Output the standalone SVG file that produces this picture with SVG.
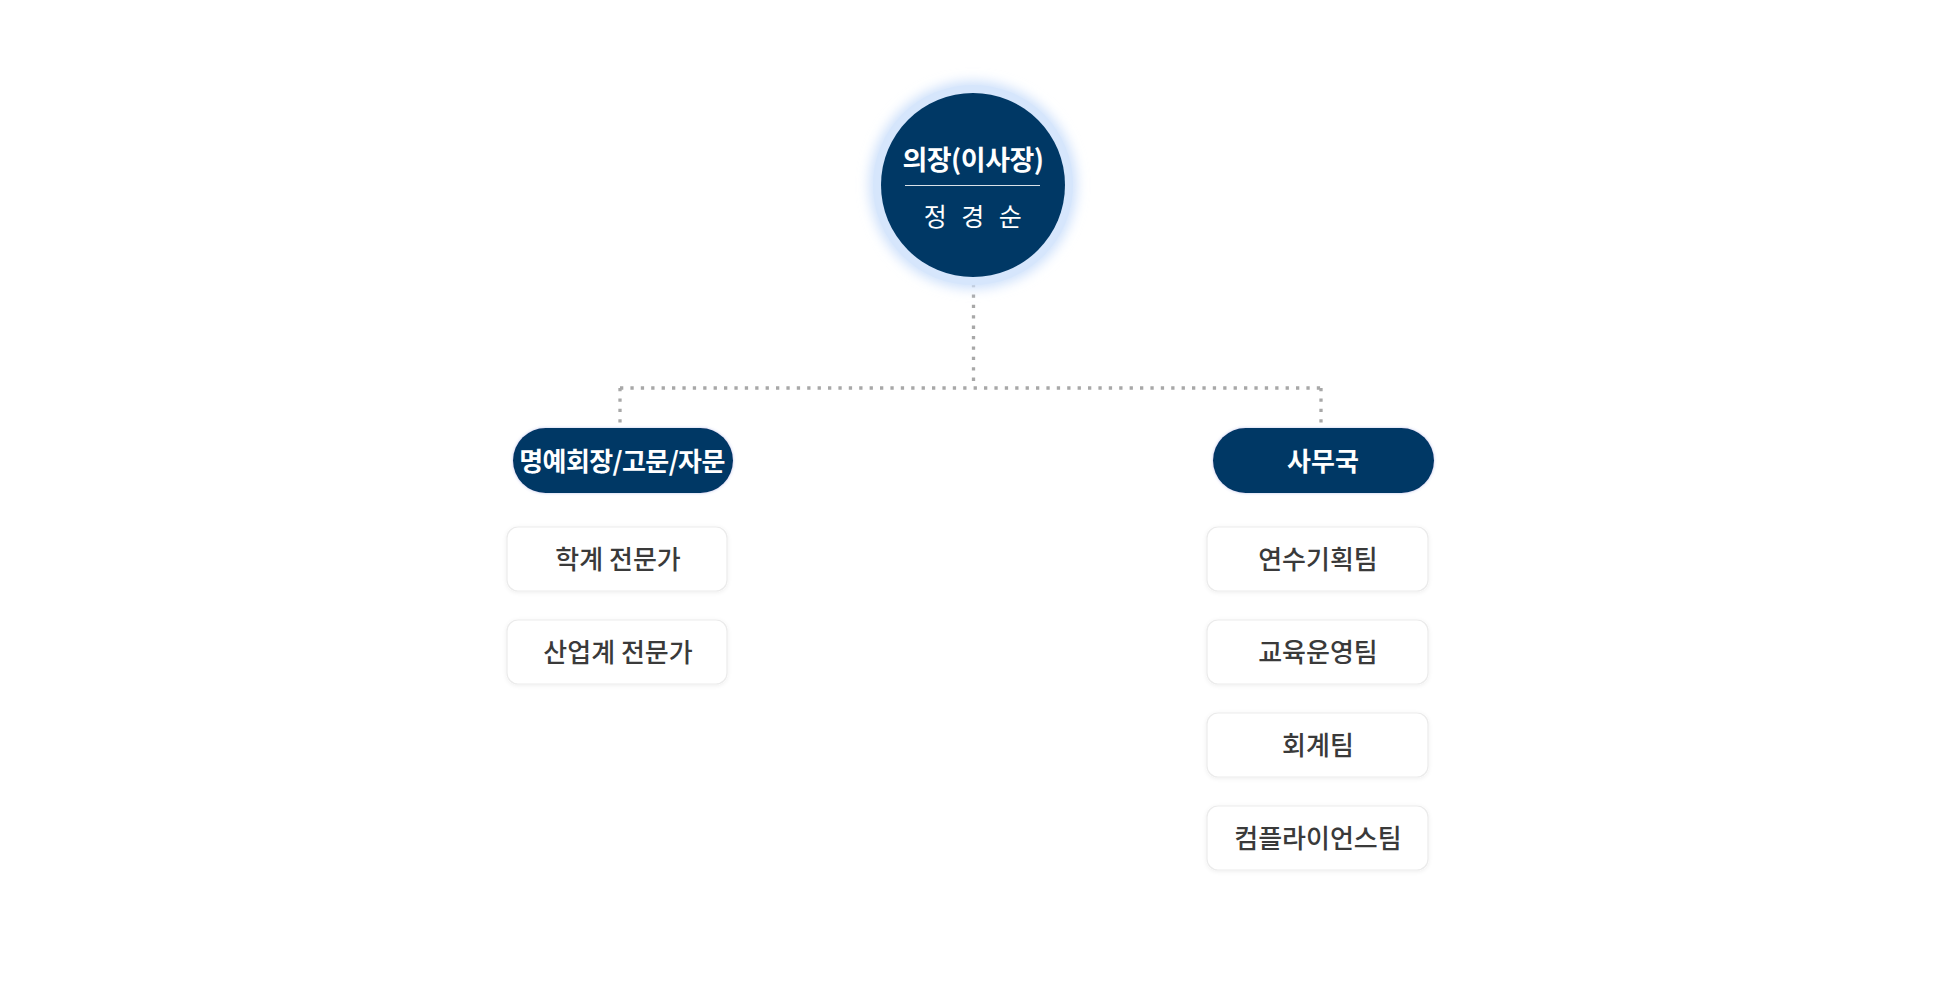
<svg xmlns="http://www.w3.org/2000/svg" width="1960" height="1000" viewBox="0 0 1960 1000">
  <defs>
    <filter id="glow" x="-50%" y="-50%" width="200%" height="200%">
      <feGaussianBlur stdDeviation="6"/>
    </filter>
    <filter id="pillShadow" x="-20%" y="-40%" width="140%" height="180%">
      <feDropShadow dx="0" dy="0" stdDeviation="1.5" flood-color="#6a7fd6" flood-opacity="0.45"/>
    </filter>
    <filter id="boxShadow" x="-20%" y="-40%" width="140%" height="180%">
      <feDropShadow dx="0" dy="1" stdDeviation="2" flood-color="#000" flood-opacity="0.07"/>
    </filter>
  </defs>
  <style>
    .navy { fill: #003865; }
    .pill { fill: #003865; filter: url(#pillShadow); }
    .box { fill: #ffffff; stroke: #ebebeb; stroke-width: 1.2; filter: url(#boxShadow); }
    .conn { fill: none; stroke: #a8a8a8; stroke-width: 3.3; stroke-dasharray: 3.3 7.1; }
    .t { font-family: "Noto Sans CJK KR", "Noto Sans", sans-serif; text-anchor: middle; }
    .white { fill: #ffffff; }
    .bold { font-weight: 700; }
    .boxText { fill: #3a3a3a; font-size: 26px; font-weight: 500; }
  </style>
  <rect x="0" y="0" width="1960" height="1000" fill="#ffffff"/>

  <g id="connectors">
    <line class="conn" x1="973.5" y1="284" x2="973.5" y2="388"/>
    <line class="conn" x1="620" y1="388" x2="1321" y2="388"/>
    <line class="conn" x1="620" y1="388" x2="620" y2="424"/>
    <line class="conn" x1="1321" y1="388" x2="1321" y2="424"/>
  </g>

  <g id="chair">
    <circle cx="973" cy="185" r="104" fill="#cfe1fb" filter="url(#glow)"/>
    <circle cx="973" cy="185" r="100" fill="#d6e6fc"/>
    <circle class="navy" cx="973" cy="185" r="92"/>
    <text class="t white bold" x="973" y="170" font-size="27" letter-spacing="-0.5">의장(이사장)</text>
    <line x1="905" y1="185.5" x2="1040" y2="185.5" stroke="#ffffff" stroke-opacity="0.85" stroke-width="1"/>
    <text class="t white" x="975" y="226" font-size="25" letter-spacing="4.5">정 경 순</text>
  </g>

  <g id="advisory">
    <rect class="pill" x="513" y="428" width="220" height="65" rx="32.5"/>
    <text class="t white bold" x="622" y="471" font-size="26" letter-spacing="-0.6">명예회장/고문/자문</text>
  </g>
  <g id="academic-expert">
    <rect class="box" x="507" y="527" width="220" height="64" rx="11"/>
    <text class="t boxText" x="618" y="569">학계 전문가</text>
  </g>
  <g id="industry-expert">
    <rect class="box" x="507" y="620" width="220" height="64" rx="11"/>
    <text class="t boxText" x="618" y="662">산업계 전문가</text>
  </g>

  <g id="secretariat">
    <rect class="pill" x="1213" y="428" width="221" height="65" rx="32.5"/>
    <text class="t white bold" x="1323" y="471" font-size="26">사무국</text>
  </g>
  <g id="training-planning">
    <rect class="box" x="1207" y="527" width="221" height="64" rx="11"/>
    <text class="t boxText" x="1318" y="569">연수기획팀</text>
  </g>
  <g id="education-operation">
    <rect class="box" x="1207" y="620" width="221" height="64" rx="11"/>
    <text class="t boxText" x="1318" y="662">교육운영팀</text>
  </g>
  <g id="accounting">
    <rect class="box" x="1207" y="713" width="221" height="64" rx="11"/>
    <text class="t boxText" x="1318" y="755">회계팀</text>
  </g>
  <g id="compliance">
    <rect class="box" x="1207" y="806" width="221" height="64" rx="11"/>
    <text class="t boxText" x="1318" y="848">컴플라이언스팀</text>
  </g>
</svg>
